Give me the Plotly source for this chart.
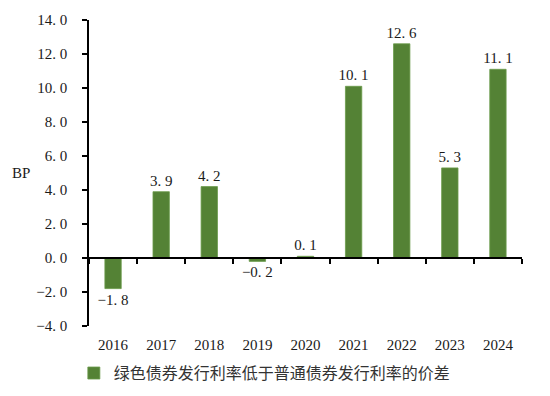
import plotly.graph_objects as go

years = ["2016", "2017", "2018", "2019", "2020", "2021", "2022", "2023", "2024"]
spread = [-1.8, 3.9, 4.2, -0.2, 0.1, 10.1, 12.6, 5.3, 11.1]
y_ticks = [-4, -2, 0, 2, 4, 6, 8, 10, 12, 14]
series_name = "绿色债券发行利率低于普通债券发行利率的价差"

def fmt(v):
    return f"{v:.1f}".replace(".", ". ").replace("-", "\u2212")

font_fam = "Liberation Serif, Noto Sans CJK SC, serif"
color = "#548235"
txt = "#1a1a1a"

fig = go.Figure()
fig.add_trace(go.Bar(
    x=years, y=spread, name=series_name,
    marker=dict(color=color, line=dict(color="#6a9a4a", width=0.8)),
    text=[fmt(v) for v in spread], textposition="outside",
    constraintext="none",
    textfont=dict(family=font_fam, size=15, color=txt),
    cliponaxis=False,
))
# invisible trace for the zero-line axis
fig.add_trace(go.Bar(x=years, y=[0]*len(years), xaxis="x2", showlegend=False,
                     hoverinfo="skip", marker=dict(color="rgba(0,0,0,0)")))

fig.update_layout(
    width=550, height=396,
    margin=dict(l=81, r=36, t=12, b=78, autoexpand=False),
    plot_bgcolor="white", paper_bgcolor="white",
    bargap=0.66,
    barmode="overlay",
    font=dict(family=font_fam, size=15, color=txt),
    showlegend=True,
    legend=dict(orientation="h", x=-0.035, xanchor="left", y=-0.154, yanchor="middle",
                font=dict(family="Noto Sans CJK SC", size=16, color="#333"),
                itemwidth=30),
    xaxis=dict(showline=False, ticks="", showgrid=False, zeroline=False,
               ticklabelstandoff=8,
               tickfont=dict(family=font_fam, size=15, color=txt)),
    xaxis2=dict(overlaying="x", anchor="free", position=4/18, showline=True,
                linecolor="black", linewidth=1.5, ticks="outside", ticklen=5,
                tickwidth=1.5, tickcolor="black", tickson="boundaries",
                showticklabels=False, showgrid=False, zeroline=False),
    yaxis=dict(range=[-4, 14], tickvals=y_ticks, ticktext=[fmt(v) for v in y_ticks],
               showline=True, linecolor="black", linewidth=1.5, ticks="outside",
               ticklen=5, tickwidth=1.5, tickcolor="black", showgrid=False,
               zeroline=False, ticklabelstandoff=12,
               tickfont=dict(family=font_fam, size=15, color=txt)),
    annotations=[dict(text="BP", xref="paper", yref="paper", x=-0.182, y=0.5,
                      showarrow=False, font=dict(family=font_fam, size=15, color=txt))],
)

fig.write_html("out.html")
